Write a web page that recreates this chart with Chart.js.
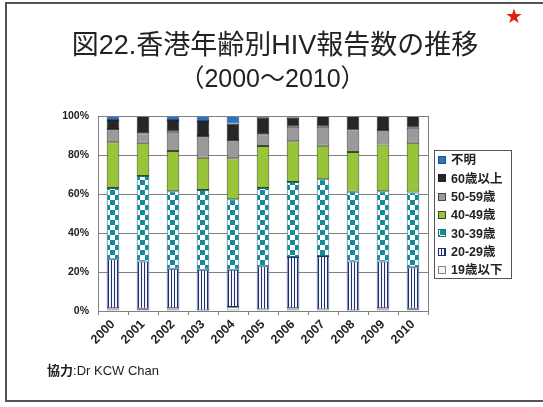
<!DOCTYPE html>
<html><head><meta charset="utf-8">
<script src="https://cdn.jsdelivr.net/npm/chart.js@4"></script>
<style>
html,body{margin:0;padding:0;background:#fff;}
#wrap{position:relative;width:543px;height:407px;overflow:hidden;}
#frame{position:absolute;left:5px;top:2px;width:600px;height:396px;border:2px solid #555;}
#c{position:absolute;left:0;top:0;}
.t{position:absolute;white-space:nowrap;color:#222;font-family:'Liberation Sans','Noto Sans CJK JP',sans-serif;}
#title{left:0;width:550px;text-align:center;top:23px;font-size:27px;}
#sub{left:0;width:545px;text-align:center;top:58px;font-size:25px;}
#star{left:505px;top:4px;font-size:20px;color:#e0201c;font-family:'DejaVu Sans',sans-serif;}
#credit{left:47px;top:360px;font-size:13px;}
</style></head>
<body><div id="wrap">
<div id="frame"></div>
<canvas id="c" width="543" height="407"></canvas>
<div class="t" id="title">図22.香港年齢別HIV報告数の推移</div>
<div class="t" id="sub">（2000～2010）</div>
<div class="t" id="star">★</div>
<div class="t" id="credit"><b>協力</b>:Dr KCW Chan</div>
</div>
<script>
const years = ['2000','2001','2002','2003','2004','2005','2006','2007','2008','2009','2010'];
const yTicks = [0,20,40,60,80,100];
const seriesNames = ['19歳以下','20-29歳','30-39歳','40-49歳','50-59歳','60歳以上','不明'];
const under19 = [1.4,1.1,1.4,0.3,2.0,0.8,1.4,0.8,0.3,1.4,1.1];
const age20s  = [25.1,24.3,20.3,20.9,19.2,22.2,26.3,27.4,25.1,24.0,21.4];
const age30s  = [36.6,43.8,39.7,40.8,36.1,40.1,38.5,39.4,35.7,36.0,38.3];
const age40s  = [23.4,17.1,20.6,16.6,21.0,21.5,20.9,17.1,20.5,24.0,25.5];
const age50s  = [6.8,4.8,9.9,11.1,9.4,6.1,7.4,9.8,11.0,7.4,7.7];
const over60  = [4.6,8.9,6.0,7.7,8.5,8.6,4.6,5.5,7.4,7.2,6.0];
const unknown = [2.1,0.0,2.1,2.6,3.8,0.7,0.9,0.0,0.0,0.0,0.0];

function tile(w,h,draw){const c=document.createElement('canvas');c.width=w;c.height=h;const x=c.getContext('2d');draw(x);return document.getElementById('c').getContext('2d').createPattern(c,'repeat');}
const checker = tile(10,10,x=>{x.fillStyle='#fff';x.fillRect(0,0,10,10);x.fillStyle='#16899a';x.fillRect(0,0,5,5);x.fillRect(5,5,5,5);});
const stripes = tile(3,2,x=>{x.fillStyle='#f4f6fb';x.fillRect(0,0,3,2);x.fillStyle='#1c2f70';x.fillRect(0,0,1,2);});

const fills = ['#f4f6f6', stripes, checker, '#98c43a', '#9a9a9a', '#262626', '#2a72c2'];
const borders = ['#888','#1c2f70','#1a6f7c','#3a4a20','#444','#222','#1d4f8a'];
const values = [under19, age20s, age30s, age40s, age50s, over60, unknown];

const FONT = "'Liberation Sans','Noto Sans CJK JP',sans-serif";

const frame = {
  id:'frame',
  afterDraw(chart){
    const {ctx, chartArea:a} = chart;
    ctx.save();
    ctx.strokeStyle='#808080'; ctx.lineWidth=1;
    ctx.strokeRect(Math.round(a.left)+0.5, Math.round(a.top)+0.5, Math.round(a.right-a.left), Math.round(a.bottom-a.top));
    const lx=434, ly=150, lw=77, lh=128;
    ctx.strokeStyle='#555'; ctx.strokeRect(lx+0.5, ly+0.5, lw, lh);
    ctx.font = "bold 12.5px "+FONT; ctx.textBaseline='middle'; ctx.fillStyle='#222';
    const ds = chart.data.datasets;
    for(let k=0;k<ds.length;k++){
      const d = ds[ds.length-1-k];
      const y = 160 + k*18.3;
      ctx.fillStyle = d.backgroundColor; ctx.fillRect(438, Math.round(y-4), 8, 8);
      ctx.strokeStyle = d.borderColor; ctx.strokeRect(438.5, Math.round(y-4)+0.5, 7, 7);
      ctx.fillStyle='#222'; ctx.fillText(d.label, 451, y+1);
    }
    ctx.restore();
  }
};

new Chart(document.getElementById('c'), {
  type:'bar',
  data:{
    labels: years,
    datasets: seriesNames.map((n,i)=>({label:n, data:values[i], backgroundColor:fills[i], borderColor:borders[i], borderWidth:1, borderSkipped:false, barPercentage:0.42, categoryPercentage:1.0}))
  },
  options:{
    responsive:false, animation:false,
    layout:{padding:{left:58, right:115, top:116, bottom:42}},
    plugins:{legend:{display:false}, tooltip:{enabled:false}},
    scales:{
      x:{stacked:true,
         grid:{drawOnChartArea:false, drawTicks:true, tickLength:4, color:'#808080', offset:true},
         border:{color:'#808080'},
         ticks:{minRotation:45, maxRotation:45, padding:2, color:'#222', font:{family:FONT, size:12.5, weight:'bold'}},
         afterFit(s){s.height=54;}},
      y:{stacked:true, min:0, max:100,
         afterBuildTicks(s){s.ticks = yTicks.map(v=>({value:v}));},
         grid:{color:'#808080', drawTicks:false},
         border:{color:'#808080'},
         ticks:{padding:9, color:'#222', font:{family:FONT, size:10.5, weight:'bold'}, callback:v=>v+'%'},
         afterFit(s){s.width=40;}}
    }
  },
  plugins:[frame]
});
</script>
</body></html>
